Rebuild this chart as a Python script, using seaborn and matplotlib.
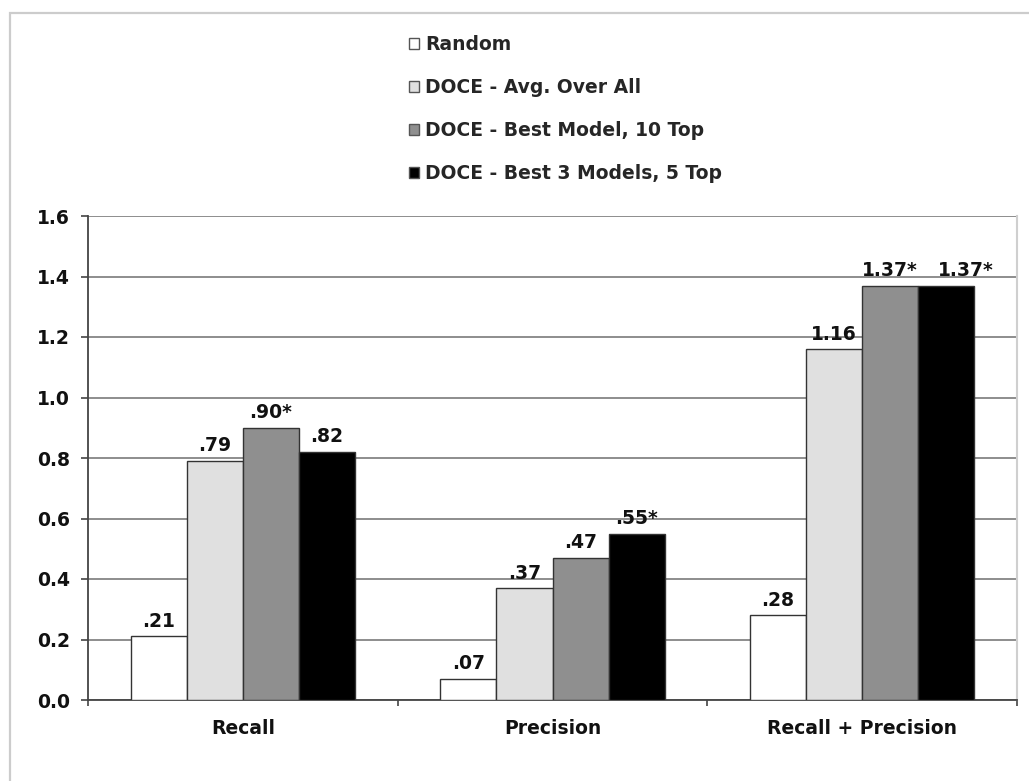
import numpy as np
import pandas as pd
import seaborn as sns
import matplotlib.pyplot as plt
from matplotlib.patches import Rectangle

# Chart values
categories = ["Recall", "Precision", "Recall + Precision"]
methods = ["Random", "DOCE - Avg. Over All", "DOCE - Best Model, 10 Top", "DOCE - Best 3 Models, 5 Top"]
random_vals = [0.21, 0.07, 0.28]
avg_vals = [0.79, 0.37, 1.16]
best_vals = [0.90, 0.47, 1.37]
best3_vals = [0.82, 0.55, 1.37]
# significance stars per method, per category
random_star = [False, False, False]
avg_star = [False, False, False]
best_star = [True, False, True]
best3_star = [False, True, True]
y_ticks = [0.0, 0.2, 0.4, 0.6, 0.8, 1.0, 1.2, 1.4, 1.6]

colors = ["#ffffff", "#e0e0e0", "#8f8f8f", "#000000"]

all_vals = [random_vals, avg_vals, best_vals, best3_vals]
all_stars = [random_star, avg_star, best_star, best3_star]

rows = []
for method, vals in zip(methods, all_vals):
    for cat, v in zip(categories, vals):
        rows.append({"category": cat, "method": method, "value": v})
df = pd.DataFrame(rows)


def fmt_label(v, star):
    s = f"{v:.2f}"
    if s.startswith("0"):
        s = s[1:]
    return s + ("*" if star else "")


sns.set_style("white")
plt.rcParams["font.family"] = ["DejaVu Sans"]
plt.rcParams["font.weight"] = "bold"
FS = 13.5

fig = plt.figure(figsize=(10.29, 7.81), dpi=100)
ax = fig.add_axes([88 / 1029, 81 / 781, (1017 - 88) / 1029, (700 - 216) / 781])

sns.barplot(data=df, x="category", y="value", hue="method", order=categories,
            hue_order=methods, palette=colors, saturation=1, width=0.724,
            edgecolor="#333333", linewidth=1.0, ax=ax, zorder=3)

bar_texts = []
for container, vals, stars in zip(ax.containers, all_vals, all_stars):
    labels = [fmt_label(v, s) for v, s in zip(vals, stars)]
    bar_texts.append(ax.bar_label(container, labels=labels, padding=4, fontsize=FS,
                                  fontweight="bold", color="#111111"))

ax.set_ylim(0, 1.6)
ax.set_xlim(-0.5, 2.5)
ax.set_yticks(y_ticks)
ax.set_yticklabels([f"{t:.1f}" for t in y_ticks])
ax.set_xlabel("")
ax.set_ylabel("")

ax.yaxis.grid(True, color="#7a7a7a", linewidth=1.2, zorder=0)
ax.set_axisbelow(True)

ax.tick_params(axis="y", which="major", direction="out", length=5, width=1.2,
               color="#444444", pad=8, labelsize=FS, left=True)
ax.tick_params(axis="x", which="major", length=0, pad=14, labelsize=FS)
ax.set_xticks([-0.5, 0.5, 1.5, 2.5], minor=True)
ax.tick_params(axis="x", which="minor", direction="out", length=4, width=1.2,
               color="#444444", bottom=True)
for lab in ax.get_xticklabels() + ax.get_yticklabels():
    lab.set_fontweight("bold")
    lab.set_color("#111111")

ax.spines["top"].set_visible(False)
ax.spines["left"].set_color("#444444")
ax.spines["left"].set_linewidth(1.3)
ax.spines["bottom"].set_color("#444444")
ax.spines["bottom"].set_linewidth(1.3)
ax.spines["right"].set_color("#cfcfcf")
ax.spines["right"].set_linewidth(1.5)

# push a value label to the right when it runs into its neighbour (as the original does)
fig.canvas.draw()
renderer = fig.canvas.get_renderer()
for i in range(1, len(bar_texts)):
    for prev, cur in zip(bar_texts[i - 1], bar_texts[i]):
        pb = prev.get_window_extent(renderer)
        cb = cur.get_window_extent(renderer)
        if cb.x0 < pb.x1 + 4 and abs(cb.y0 - pb.y0) < cb.height:
            dx = (pb.x1 + 20 - cb.x0) * 72 / fig.dpi
            ox, oy = cur.xyann
            cur.xyann = (ox + dx, oy)

handles, labels = ax.get_legend_handles_labels()
ax.legend_.remove()
for h in handles:
    h.set_edgecolor("#555555")
fig.legend(handles, labels, loc="upper left", bbox_to_anchor=(409 / 1029, 1 - 35 / 781),
           frameon=False, handlelength=0.55, handleheight=0.55,
           handletextpad=0.3, labelspacing=1.28, borderpad=0, borderaxespad=0,
           prop={"weight": "bold", "size": FS})

# outer frame of the original figure (only top and left visible)
fig.add_artist(Rectangle((9.5 / 1029, -0.1), 1.2, 1.1 - 13 / 781,
                         transform=fig.transFigure, fill=False,
                         edgecolor="#cccccc", linewidth=1.6))

fig.savefig("out.png", dpi=100)
